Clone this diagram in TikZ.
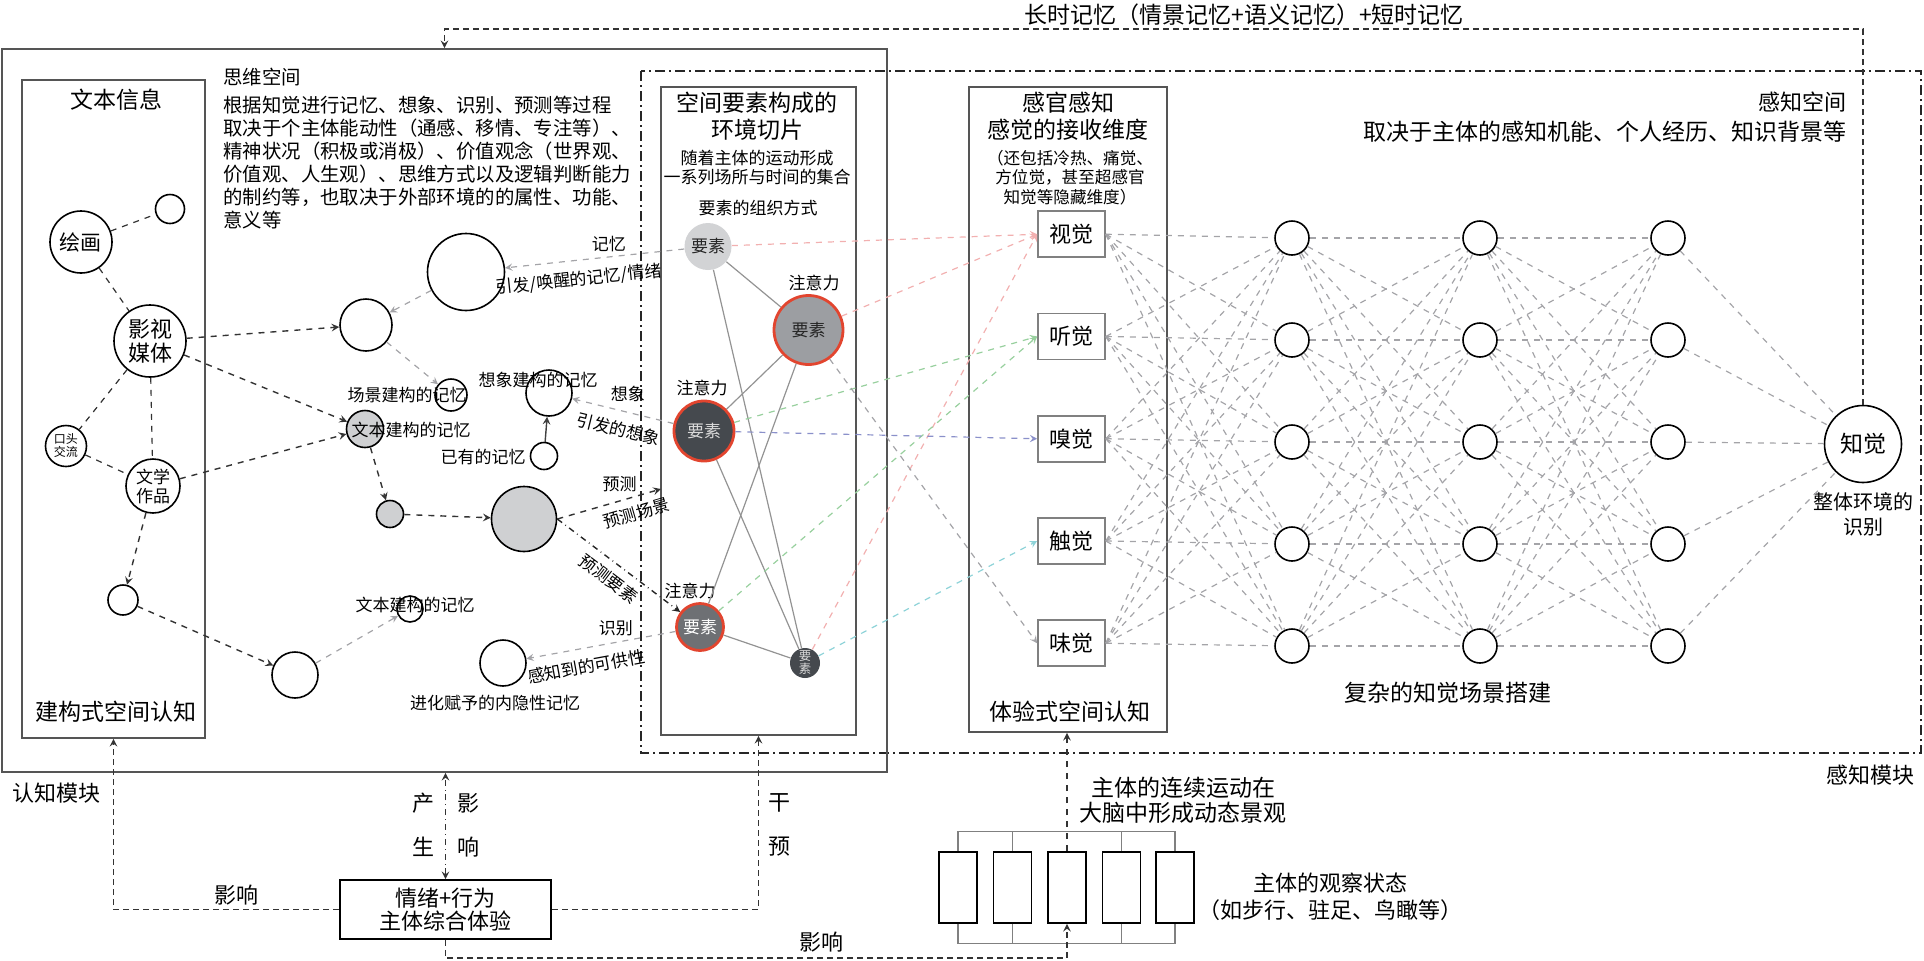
\documentclass[tikz,border=0pt]{standalone}
\usepackage{fontspec}
\setmainfont{Noto Sans CJK SC}
\usetikzlibrary{positioning, arrows}

\definecolor{linegray}{HTML}{555555}
\definecolor{netgray}{HTML}{A4A4A8}
\definecolor{memgray}{HTML}{CFD0D2}
\definecolor{attred}{HTML}{E2452F}
\definecolor{elA}{HTML}{D2D3D5}
\definecolor{elB}{HTML}{9C9EA2}
\definecolor{elC}{HTML}{45494E}
\definecolor{elD}{HTML}{6E7074}
\definecolor{pinkar}{HTML}{F2B0B0}
\definecolor{greenar}{HTML}{98D09E}
\definecolor{bluear}{HTML}{8A90CA}
\definecolor{cyanar}{HTML}{8ED3D8}

\begin{document}
\begin{tikzpicture}[
    x=0.5pt, y=-0.5pt, >=stealth,
    fs/.style 2 args={font=\fontsize{#1}{#2}\selectfont},
    panel/.style={draw=linegray, line width=0.8pt, inner sep=0pt},
    mem/.style={circle, draw, line width=0.8pt, inner sep=0pt, fill=white, align=center},
    memg/.style={mem, fill=memgray},
    elem/.style={circle, inner sep=0pt, fs={8.5}{9.5}, align=center},
    attn/.style={elem, draw=attred, line width=1.4pt},
    sense/.style={draw=gray, line width=0.8pt, fill=white, minimum width=33.5pt, minimum height=23pt, fs={11}{12}},
    neuron/.style={circle, draw, line width=0.8pt, fill=white, minimum size=17pt, inner sep=0pt},
    link/.style={dashed, draw=black!80, line width=0.6pt},
    flow/.style={->, dashed, draw=black!80, line width=0.7pt},
    soft/.style={->, dashed, draw=netgray, line width=0.6pt},
    net/.style={dashed, draw=netgray, line width=0.6pt},
    tie/.style={draw=gray!85, line width=0.6pt},
    lbl/.style={fs={8.5}{9.5}, inner sep=1pt}
]
    \useasboundingbox (0,0) rectangle (1924,960);

    % frames
    \draw[black!85, line width=0.9pt, dash pattern=on 5pt off 2pt on 1pt off 2pt] (641,71) rectangle (1921,753);
    \node[panel, minimum width=442.5pt, minimum height=361.5pt] (cogbox) at (444.5,410.5) {};
    \node[panel, minimum width=91.5pt, minimum height=329pt] (txtbox) at (113.5,409) {};
    \node[panel, minimum width=97.5pt, minimum height=324pt] (elbox) at (758.5,411) {};
    \node[panel, minimum width=99pt, minimum height=322.5pt] (sensebox) at (1068,409.5) {};

    % titles
    \node[fs={11.5}{13.5}] (ltmlbl) at (1244,15) {长时记忆（情景记忆+语义记忆）+短时记忆};
    \node[fs={9.7}{11.5}, anchor=west, inner sep=0pt] (mindlbl) at (223,77) {思维空间};
    \node[fs={9.7}{11.5}, anchor=west, align=left, inner sep=0pt] (mindtxt) at (223,162.5) {根据知觉进行记忆、想象、识别、预测等过程\\取决于个主体能动性（通感、移情、专注等）、\\精神状况（积极或消极）、价值观念（世界观、\\价值观、人生观）、思维方式以及逻辑判断能力\\的制约等，也取决于外部环境的的属性、功能、\\意义等};
    \node[fs={11.5}{13.5}] (txttitle) at (116,100) {文本信息};
    \node[fs={11.5}{13.5}] (txtfoot) at (116,712) {建构式空间认知};
    \node[fs={11.5}{13.5}, align=center] (eltitle) at (757,116.5) {空间要素构成的\\环境切片};
    \node[fs={8.5}{9.5}, align=center] (elsub) at (757,167.5) {随着主体的运动形成\\一系列场所与时间的集合};
    \node[fs={8.5}{9.5}] (elorg) at (758,208) {要素的组织方式};
    \node[fs={11.5}{13.5}, align=center] (sensetitle) at (1068,116.5) {感官感知\\感觉的接收维度};
    \node[fs={8.3}{9.75}, align=center] (sensesub) at (1070,177.5) {（还包括冷热、痛觉、\\方位觉，甚至超感官\\知觉等隐藏维度）};
    \node[fs={11.5}{13.5}] (sensefoot) at (1070,712) {体验式空间认知};
    \node[fs={11}{13}, anchor=east, inner sep=0pt] (perclbl) at (1847,102) {感知空间};
    \node[fs={11.5}{13}, anchor=east, inner sep=0pt] (perctxt) at (1847,132) {取决于主体的感知机能、个人经历、知识背景等};
    \node[fs={11.5}{13}] (scenelbl) at (1448,693) {复杂的知觉场景搭建};
    \node[fs={11}{13}, anchor=east, inner sep=0pt] (permod) at (1915,775) {感知模块};
    \node[fs={11}{13}, anchor=west, inner sep=0pt] (cogmod) at (12,793) {认知模块};

    % text information
    \node[mem, minimum size=31pt, fs={10.5}{12}] (paint) at (81,242) {绘画};
    \node[mem, minimum size=14.5pt] (paintsub) at (170,209) {};
    \node[mem, minimum size=36pt, fs={11}{12}] (film) at (150,341) {影视\\媒体};
    \node[mem, minimum size=20.5pt, fs={6}{6.5}] (oral) at (66,446) {口头\\交流};
    \node[mem, minimum size=27pt, fs={8.5}{9.5}] (lit) at (153,486) {文学\\作品};
    \node[mem, minimum size=15pt] (litsub) at (123,600) {};
    \draw[link] (paint) -- (paintsub);
    \draw[link] (paint) -- (film);
    \draw[link] (film) -- (oral);
    \draw[link] (film) -- (lit);
    \draw[link] (oral) -- (lit);

    % memories
    \node[mem, minimum size=23pt] (memlow) at (295,675) {};
    \node[mem, minimum size=13pt] (memlowsub) at (410,609) {};
    \node[mem, minimum size=26pt] (memA) at (366,325) {};
    \node[mem, minimum size=38.5pt] (memB) at (466,272) {};
    \node[mem, minimum size=16pt] (scene) at (451,395) {};
    \node[memg, minimum size=18.5pt] (textmem) at (365,429) {};
    \node[memg, minimum size=13.5pt] (textsub) at (390,514) {};
    \node[memg, minimum size=32.5pt] (predict) at (524,519) {};
    \node[mem, minimum size=23pt] (imag) at (549,393) {};
    \node[mem, minimum size=13.5pt] (prior) at (544,456) {};
    \node[mem, minimum size=23pt] (implicit) at (503,663) {};
    \node[lbl] (scenetxt) at (407,395) {场景建构的记忆};
    \node[lbl] (textmemtxt) at (411,430) {文本建构的记忆};
    \node[lbl] (imagtxt) at (538,380) {想象建构的记忆};
    \node[lbl] (priortxt) at (483,457) {已有的记忆};
    \node[lbl] (lowtxt) at (415,605) {文本建构的记忆};
    \node[lbl] (impltxt) at (495,703) {进化赋予的内隐性记忆};

    \draw[flow] (film) -- (memA);
    \draw[flow] (film) -- (textmem);
    \draw[flow] (lit) -- (textmem);
    \draw[flow] (lit) -- (litsub);
    \draw[flow] (litsub) -- (memlow);
    \draw[flow] (textmem) -- (textsub);
    \draw[flow] (textsub) -- (predict);
    \draw[soft] (memB) -- (memA);
    \draw[soft] (memA) -- (scene);
    \draw[soft] (memlow) -- (memlowsub);
    \draw[->, draw=black!75, line width=0.7pt] (prior) -- (imag);

    % elements
    \node[elem, fill=elA, minimum size=23.5pt, text=black!85] (el1) at (708,246.5) {要素};
    \node[attn, fill=elB, minimum size=34.5pt, text=black!85] (el2) at (808.5,330) {要素};
    \node[attn, fill=elC, minimum size=30pt, text=white!85!black] (el3) at (704,431) {要素};
    \node[attn, fill=elD, minimum size=23.5pt, text=white] (el4) at (700,627) {要素};
    \node[elem, fill=elC, minimum size=15pt, text=white!85!black, fs={6.2}{6.5}] (el5) at (805,663) {要\\素};
    \node[lbl] (att2) at (814,283) {注意力};
    \node[lbl] (att3) at (702,388) {注意力};
    \node[lbl] (att4) at (690,591) {注意力};
    \draw[tie] (el1) -- (el2);
    \draw[tie] (el1) -- (el5);
    \draw[tie] (el2) -- (el3);
    \draw[tie] (el2) -- (el4);
    \draw[tie] (el3) -- (el5);
    \draw[tie] (el4) -- (el5);

    \coordinate (predpt) at (661,489);
    \draw[flow] (predict.east) -- node[lbl, pos=0.6, above=3pt] (predlbl) {预测}
        node[lbl, sloped, below=3pt, pos=0.72] (predscn) {预测场景} (predpt);
    \draw[->, dash dot, draw=black!85, line width=0.7pt] (predict.east) --
        node[lbl, sloped, below=3pt, pos=0.5] (predel) {预测要素} (el4);
    \draw[soft] (el1) -- node[lbl, pos=0.42, above=1pt] (memlbl) {记忆}
        node[lbl, sloped, below=4pt, pos=0.6] (memlbl2) {引发/唤醒的记忆/情绪} (memB);
    \draw[soft] (el3) -- node[lbl, pos=0.45, above=4pt] (imglbl) {想象}
        node[lbl, sloped, below=4pt, pos=0.5] (imglbl2) {引发的想象} (imag);
    \draw[soft] (el4) -- node[lbl, pos=0.4, above=2pt] (reclbl) {识别}
        node[lbl, sloped, below=4pt, pos=0.62] (reclbl2) {感知到的可供性} (implicit);

    % senses
    \foreach \i/\t in {1/视觉,2/听觉,3/嗅觉,4/触觉,5/味觉}
        \node[sense] (s\i) at (1071.5,{132+102.25*\i}) {\t};

    \draw[->, dashed, pinkar, line width=0.6pt] (el1) -- (s1.west);
    \draw[->, dashed, pinkar, line width=0.6pt] (el2) -- (s1.west);
    \draw[->, dashed, pinkar, line width=0.6pt] (el5) -- (s1.west);
    \draw[->, dashed, greenar, line width=0.6pt] (el3) -- (s2.west);
    \draw[->, dashed, greenar, line width=0.6pt] (el4) -- (s2.west);
    \draw[->, dashed, bluear, line width=0.6pt] (el3) -- (s3.west);
    \draw[->, dashed, cyanar, line width=0.6pt] (el5) -- (s4.west);
    \draw[soft] (el2) -- (s5.west);

    % network
    \foreach \c in {1,2,3}
        \foreach \i in {1,...,5}
            \node[neuron] (n\c-\i) at ({1104+188*\c},{136+102*\i}) {};
    \node[mem, minimum size=38.5pt, fs={11.5}{13}] (perc) at (1863,444) {知觉};
    \node[fs={10}{12.5}, align=center] (perctxt2) at (1863,514.5) {整体环境的\\识别};

    \foreach \i in {1,...,5}
        \foreach \j in {1,...,5} {
            \draw[net] (s\i.east) -- (n1-\j);
            \draw[net] (n1-\i) -- (n2-\j);
            \draw[net] (n2-\i) -- (n3-\j);
        }
    \foreach \i in {1,...,5}
        \draw[net] (n3-\i) -- (perc);

    \coordinate (memturn) at (444.5,29);
    \draw[->, densely dashed, draw=black!80, line width=0.7pt] (perc.north) |- (memturn) -- (cogbox.north);

    % bottom
    \node[draw, line width=0.8pt, minimum width=105.5pt, minimum height=29.5pt, align=center, fs={11}{11.5}] (emo) at (445.5,909.5) {情绪+行为\\主体综合体验};
    \foreach \k/\x in {1/958,2/1012.5,3/1067,4/1121.5,5/1175}
        \node[draw, line width=0.8pt, minimum width=19pt, minimum height=35.5pt, inner sep=0pt] (obs\k) at (\x,887.5) {};
    \draw[tie, draw=gray] (obs1.north) -- ++(0,-20) -- ++(217,0) -- (obs5.north);
    \draw[tie, draw=gray] (obs1.south) -- ++(0,20) -- ++(217,0) -- (obs5.south);
    \foreach \k in {2,4} {
        \draw[tie, draw=gray] (obs\k.north) -- ++(0,-20);
        \draw[tie, draw=gray] (obs\k.south) -- ++(0,20);
    }

    \draw[flow, densely dashed] (emo.west) -| (txtbox.south);
    \draw[flow, densely dashed] (emo.east) -| (elbox.south);
    \draw[<->, dash dot, draw=black!80, line width=0.7pt] (emo.north) -- (emo.north |- cogbox.south);
    \coordinate (lowturn) at (1067,958);
    \draw[flow, densely dashed] (emo.south) |- (lowturn) -- (obs3.south);
    \draw[flow] (obs3.north) -- (obs3.north |- sensebox.south);

    \node[fs={11}{22}, align=center] (prodlbl) at (423,825) {产\\生};
    \node[fs={11}{22}, align=center] (inflbl) at (468,825) {影\\响};
    \node[fs={11}{22}, align=center] (intlbl) at (779,825) {干\\预};
    \node[fs={11}{13}] (inflbl2) at (236,895) {影响};
    \node[fs={11}{13}] (inflbl3) at (821,942) {影响};
    \node[fs={11.5}{12.5}, align=center] (motionlbl) at (1183,800.5) {主体的连续运动在\\大脑中形成动态景观};
    \node[fs={11}{13.5}, align=center] (obslbl) at (1330,896.5) {主体的观察状态\\（如步行、驻足、鸟瞰等）};

\end{tikzpicture}
\end{document}
